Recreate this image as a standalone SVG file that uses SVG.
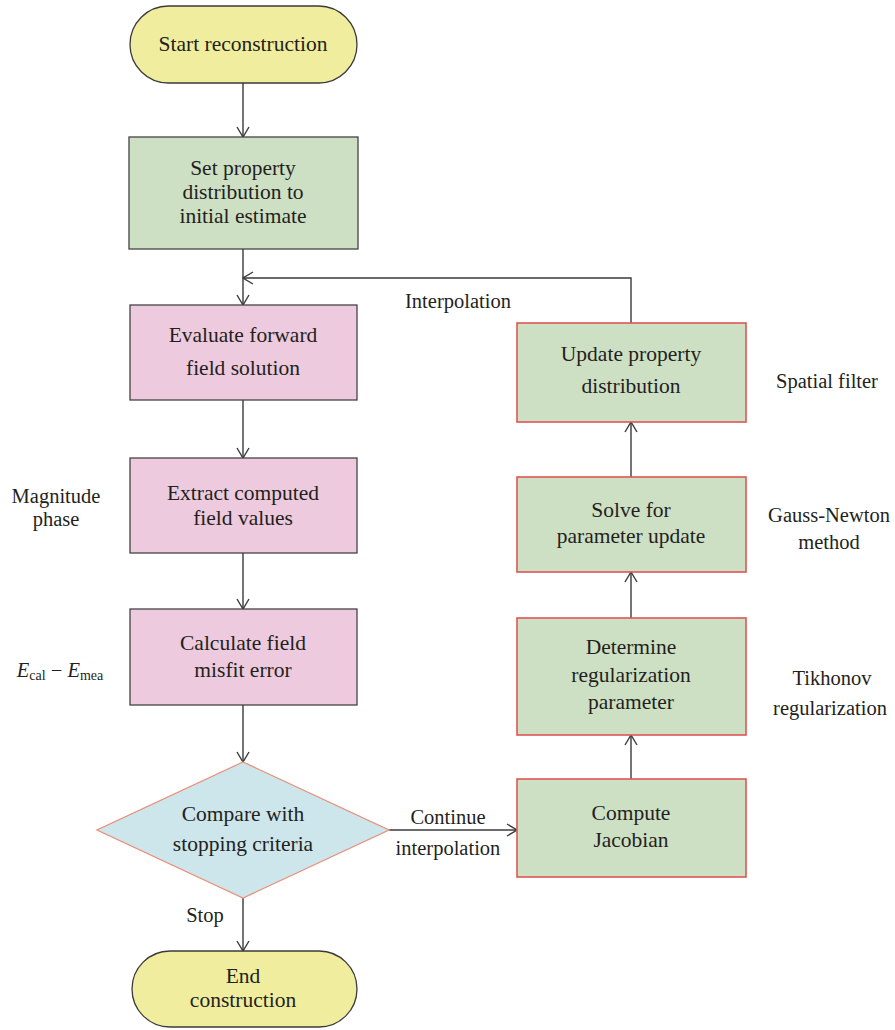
<svg xmlns="http://www.w3.org/2000/svg" width="895" height="1030" viewBox="0 0 895 1030">
  <style>
    text { font-family: "Liberation Serif", "Times New Roman", serif; font-size: 21.5px; fill: #231f20; text-anchor: middle; }
    .term { fill: #f0ee9e; stroke: #3a3a3a; stroke-width: 1.3; }
    .green { fill: #cee0c4; stroke: #444; stroke-width: 1.3; }
    .greenr { fill: #cee0c4; stroke: #e05656; stroke-width: 1.6; }
    .pink { fill: #edcadd; stroke: #444; stroke-width: 1.3; }
    .dec { fill: #cde6ec; stroke: #e8907a; stroke-width: 1.3; }
    .conn { fill: none; stroke: #3a3a3a; stroke-width: 1.4; }
    .note { font-size: 20.5px; }
  </style>
  <defs>
    <marker id="arrow" viewBox="0 0 12 14" refX="11" refY="7" markerWidth="12" markerHeight="14" markerUnits="userSpaceOnUse" orient="auto">
      <polyline points="1,1 11,7 1,13" fill="none" stroke="#3a3a3a" stroke-width="1.4"/>
    </marker>
  </defs>

  <rect width="895" height="1030" fill="#ffffff"/>

  <!-- connectors -->
  <g id="connectors">
    <line class="conn" x1="243" y1="83" x2="243" y2="137" marker-end="url(#arrow)"/>
    <line class="conn" x1="243" y1="249" x2="243" y2="305" marker-end="url(#arrow)"/>
    <line class="conn" x1="243" y1="400" x2="243" y2="458" marker-end="url(#arrow)"/>
    <line class="conn" x1="243" y1="553" x2="243" y2="609" marker-end="url(#arrow)"/>
    <line class="conn" x1="243" y1="705" x2="243" y2="762" marker-end="url(#arrow)"/>
    <line class="conn" x1="243" y1="898" x2="243" y2="951" marker-end="url(#arrow)"/>
    <line class="conn" x1="389" y1="830" x2="517" y2="830" marker-end="url(#arrow)"/>
    <line class="conn" x1="631" y1="779" x2="631" y2="735" marker-end="url(#arrow)"/>
    <line class="conn" x1="631" y1="618" x2="631" y2="572" marker-end="url(#arrow)"/>
    <line class="conn" x1="631" y1="477" x2="631" y2="422" marker-end="url(#arrow)"/>
    <polyline class="conn" points="631,323 631,278 243,278" marker-end="url(#arrow)"/>
    <text class="note" x="458" y="308">Interpolation</text>
    <text class="note" x="448" y="824">Continue</text>
    <text class="note" x="448" y="855">interpolation</text>
    <text class="note" x="205" y="922">Stop</text>
  </g>

  <g id="start">
    <rect class="term" x="130" y="6" width="227" height="77" rx="38.5" ry="38.5"/>
    <text x="243" y="51">Start reconstruction</text>
  </g>

  <g id="init">
    <rect class="green" x="129" y="137" width="229" height="112"/>
    <text x="243" y="175">Set property</text>
    <text x="243" y="199">distribution to</text>
    <text x="243" y="223">initial estimate</text>
  </g>

  <g id="forward">
    <rect class="pink" x="130" y="305" width="227" height="95"/>
    <text x="243" y="342">Evaluate forward</text>
    <text x="243" y="375">field solution</text>
  </g>

  <g id="extract">
    <rect class="pink" x="130" y="458" width="227" height="95"/>
    <text x="243" y="500">Extract computed</text>
    <text x="243" y="525">field values</text>
  </g>

  <g id="misfit">
    <rect class="pink" x="130" y="609" width="227" height="96"/>
    <text x="243" y="650">Calculate field</text>
    <text x="243" y="677">misfit error</text>
  </g>

  <g id="compare">
    <polygon class="dec" points="243,762 389,830 243,898 97,830"/>
    <text x="243" y="821">Compare with</text>
    <text x="243" y="851">stopping criteria</text>
  </g>

  <g id="end">
    <rect class="term" x="132" y="951" width="225" height="76" rx="38" ry="38"/>
    <text x="243" y="983">End</text>
    <text x="243" y="1007">construction</text>
  </g>

  <g id="jacobian">
    <rect class="greenr" x="517" y="779" width="229" height="98"/>
    <text x="631" y="820">Compute</text>
    <text x="631" y="847">Jacobian</text>
  </g>

  <g id="regularization">
    <rect class="greenr" x="517" y="618" width="229" height="117"/>
    <text x="631" y="654">Determine</text>
    <text x="631" y="682">regularization</text>
    <text x="631" y="709">parameter</text>
  </g>

  <g id="solve">
    <rect class="greenr" x="517" y="477" width="229" height="95"/>
    <text x="631" y="517">Solve for</text>
    <text x="631" y="543">parameter update</text>
  </g>

  <g id="update">
    <rect class="greenr" x="517" y="323" width="229" height="99"/>
    <text x="631" y="361">Update property</text>
    <text x="631" y="393">distribution</text>
  </g>

  <!-- side annotations -->
  <g id="annotations">
    <text class="note" x="56" y="503">Magnitude</text>
    <text class="note" x="56" y="526">phase</text>
    <text class="note" x="60" y="677"><tspan font-style="italic">E</tspan><tspan font-size="14" dy="3">cal</tspan><tspan dy="-3"> − </tspan><tspan font-style="italic">E</tspan><tspan font-size="14" dy="3">mea</tspan></text>
    <text class="note" x="827" y="388">Spatial filter</text>
    <text class="note" x="829" y="522">Gauss-Newton</text>
    <text class="note" x="829" y="549">method</text>
    <text class="note" x="832" y="685">Tikhonov</text>
    <text class="note" x="830" y="715">regularization</text>
  </g>
</svg>
